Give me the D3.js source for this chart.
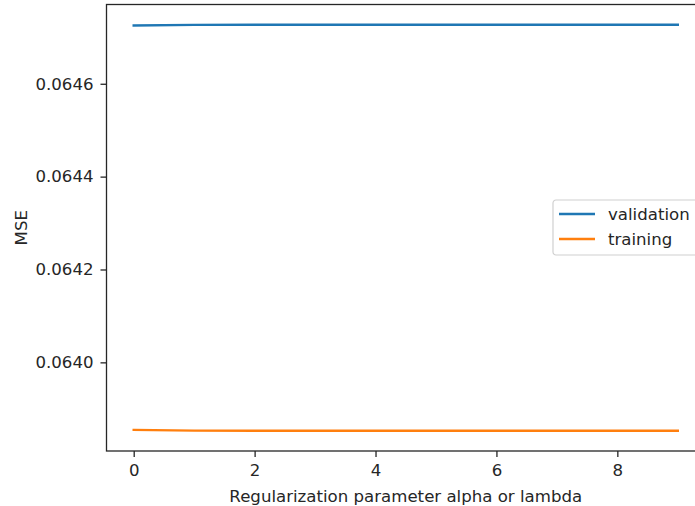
<!DOCTYPE html>
<html>
<head>
<meta charset="utf-8">
<script src="https://cdn.jsdelivr.net/npm/d3@7"></script>
<style>
  html, body { margin: 0; padding: 0; background: #fff; overflow: hidden; }
  text { font-family: "DejaVu Sans", sans-serif; fill: #262626; }
</style>
</head>
<body>
<svg id="chart" width="695" height="506"></svg>
<script>
// Regularization strength values
const alphas = [0, 1, 2, 3, 4, 5, 6, 7, 8, 9];
// Mean squared error on the validation set
const validationMSE = [0.0647255, 0.0647268, 0.0647270, 0.0647270, 0.0647270, 0.0647270, 0.0647270, 0.0647270, 0.0647270, 0.0647270];
// Mean squared error on the training set
const trainingMSE = [0.0638545, 0.0638530, 0.0638528, 0.0638528, 0.0638528, 0.0638528, 0.0638528, 0.0638528, 0.0638528, 0.0638528];
const xTicks = [0, 2, 4, 6, 8];
const yTicks = [0.0640, 0.0642, 0.0644, 0.0646];
const seriesNames = ["validation", "training"];

const colors = ["#1f77b4", "#ff7f0e"];
const plot = { left: 106.5, right: 705, top: 4.5, bottom: 451 };
const fontSize = 16.6;

const svg = d3.select("#chart");

// Axis extents padded by 5% of the data span on each side
const xExt = d3.extent(alphas);
const xPad = (xExt[1] - xExt[0]) * 0.05;
const allY = validationMSE.concat(trainingMSE);
const yExt = d3.extent(allY);
const yPad = (yExt[1] - yExt[0]) * 0.05;

const x = d3.scaleLinear().domain([xExt[0] - xPad, xExt[1] + xPad]).range([plot.left, plot.right]);
const y = d3.scaleLinear().domain([yExt[0] - yPad, yExt[1] + yPad]).range([plot.bottom, plot.top]);

// Lines
const line = d3.line().x((d, i) => x(alphas[i])).y(d => y(d));
[validationMSE, trainingMSE].forEach((vals, k) => {
  svg.append("path")
    .datum(vals)
    .attr("d", line)
    .attr("fill", "none")
    .attr("stroke", colors[k])
    .attr("stroke-width", 2.4)
    .attr("stroke-linecap", "square");
});

// Axes
const xAxis = d3.axisBottom(x).tickValues(xTicks).tickFormat(d3.format("d")).tickSizeOuter(0).tickSize(6);
const yAxis = d3.axisLeft(y).tickValues(yTicks).tickFormat(d3.format(".4f")).tickSizeOuter(0).tickSize(6).tickPadding(7);

const gx = svg.append("g").attr("transform", `translate(0,${plot.bottom})`).call(xAxis);
const gy = svg.append("g").attr("transform", `translate(${plot.left},0)`).call(yAxis);
gx.selectAll(".tick text").attr("y", 25).attr("dy", 0);
[gx, gy].forEach(g => {
  g.select(".domain").remove();
  g.selectAll(".tick line").attr("stroke", "#262626").attr("stroke-width", 1.3);
  g.selectAll(".tick text").attr("font-size", fontSize).attr("font-family", "DejaVu Sans").attr("fill", "#262626");
});

// Spines
svg.append("rect")
  .attr("x", plot.left).attr("y", plot.top)
  .attr("width", plot.right - plot.left).attr("height", plot.bottom - plot.top)
  .attr("fill", "none").attr("stroke", "#262626").attr("stroke-width", 1.3);

// Axis labels
svg.append("text")
  .attr("x", (plot.left + plot.right) / 2)
  .attr("y", 501.5)
  .attr("text-anchor", "middle")
  .attr("font-size", fontSize)
  .text("Regularization parameter alpha or lambda");

svg.append("text")
  .attr("transform", `translate(26.5,${(plot.top + plot.bottom) / 2}) rotate(-90)`)
  .attr("text-anchor", "middle")
  .attr("font-size", fontSize)
  .text("MSE");

// Legend
const legend = svg.append("g").attr("transform", "translate(553,200)");
legend.append("rect")
  .attr("x", 0).attr("y", 0).attr("width", 148).attr("height", 55)
  .attr("rx", 3)
  .attr("fill", "#fff").attr("fill-opacity", 0.8)
  .attr("stroke", "#d0d0d0").attr("stroke-width", 1.2);
seriesNames.forEach((name, i) => {
  const cy = 14 + i * 25;
  legend.append("line")
    .attr("x1", 6).attr("x2", 42).attr("y1", cy).attr("y2", cy)
    .attr("stroke", colors[i]).attr("stroke-width", 2.4);
  legend.append("text")
    .attr("x", 55).attr("y", cy)
    .attr("dy", "0.36em")
    .attr("font-size", fontSize)
    .text(name);
});
</script>
</body>
</html>
